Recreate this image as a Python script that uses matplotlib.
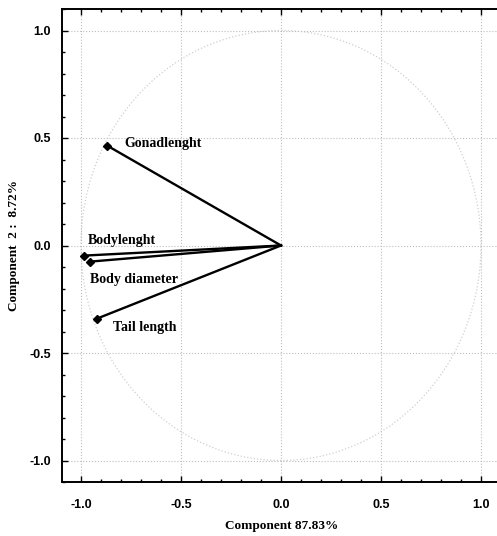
import numpy as np
import matplotlib
matplotlib.use('Agg')
import matplotlib.pyplot as plt
from matplotlib.ticker import MultipleLocator

plt.rcParams['axes.unicode_minus'] = False

# ---- data: loadings on component 1 / component 2 ----
VARIABLES = ['Gonadlenght', 'Bodylenght', 'Body diameter', 'Tail length']
COMP1 = [-0.87, -0.985, -0.955, -0.92]
COMP2 = [0.465, -0.047, -0.075, -0.34]
# label anchor offsets (data units)
LABEL_DX = [0.085, 0.02, 0.0, 0.08]
LABEL_DY = [0.01, 0.07, -0.085, -0.04]

XLABEL = 'Component 87.83%'
YLABEL = 'Component  2 :  8.72%'

SERIF = ['Liberation Serif', 'DejaVu Serif']
SANS = ['Liberation Sans', 'DejaVu Sans']

fig = plt.figure(figsize=(4.97, 5.36), dpi=100)
fig.patch.set_facecolor('white')
ax = fig.add_axes([62 / 497, 54 / 536, 439 / 497, 473 / 536])

ax.set_xlim(-1.095, 1.1)
ax.set_ylim(-1.1, 1.1)

# unit circle + grid
t = np.linspace(0, 2 * np.pi, 400)
ax.plot(np.cos(t), np.sin(t), ls=':', color='#cfcfcf', lw=0.9, zorder=1)
ax.grid(True, which='major', ls=':', color='#bdbdbd', lw=0.8)

for x, y, name, dx, dy in zip(COMP1, COMP2, VARIABLES, LABEL_DX, LABEL_DY):
    ax.plot([0, x], [0, y], color='black', lw=1.7, zorder=3)
    ax.plot(x, y, marker='D', ms=4, color='black', zorder=4)
    ax.text(x + dx, y + dy, name, fontsize=10, fontweight='bold',
            family=SERIF, va='center', ha='left', zorder=5)

ax.xaxis.set_major_locator(MultipleLocator(0.5))
ax.yaxis.set_major_locator(MultipleLocator(0.5))
ax.xaxis.set_minor_locator(MultipleLocator(0.1))
ax.yaxis.set_minor_locator(MultipleLocator(0.1))
ax.tick_params(which='both', direction='in', top=True, right=False,
               labelsize=9, width=1.0)
ax.tick_params(which='major', length=4)
ax.tick_params(which='minor', length=2.5)
ax.tick_params(axis='x', pad=12)
ax.tick_params(axis='y', pad=8)
for lab in ax.get_xticklabels() + ax.get_yticklabels():
    lab.set_family(SANS)
    lab.set_fontweight('bold')

for side in ['left', 'bottom', 'top']:
    ax.spines[side].set_linewidth(1.4)
ax.spines['right'].set_visible(False)

ax.set_xlabel(XLABEL, fontsize=9.5, fontweight='bold', family=SERIF, labelpad=7)
ax.set_ylabel(YLABEL, fontsize=9.5, fontweight='bold', family=SERIF, labelpad=7)

fig.savefig('out.png', dpi=100, facecolor='white')
